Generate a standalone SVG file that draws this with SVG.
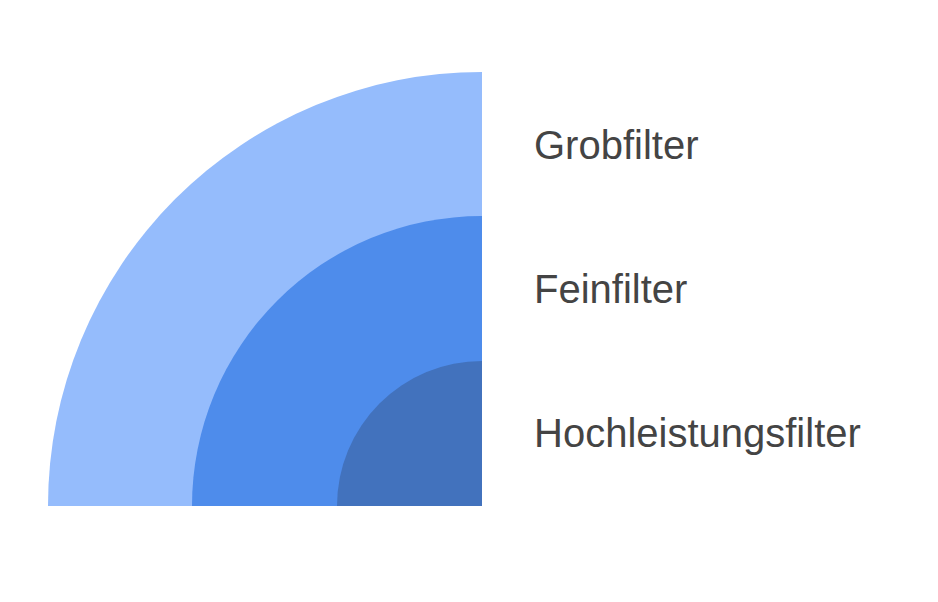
<svg xmlns="http://www.w3.org/2000/svg" width="938" height="602" viewBox="0 0 938 602">
<style>
.lbl{font-family:"Liberation Sans",Arial,sans-serif;font-size:40px;fill:#444444}
</style>
<rect width="938" height="602" fill="#ffffff"/>
<g id="node-grobfilter">
<path d="M482,506 L48,506 A434,434 0 0 1 482,72 Z" fill="#95bcfc"/>
<text class="lbl" x="534" y="159">Grobfilter</text>
</g>
<g id="node-feinfilter">
<path d="M482,506 L192,506 A290,290 0 0 1 482,216 Z" fill="#4e8ceb"/>
<text class="lbl" x="534" y="303">Feinfilter</text>
</g>
<g id="node-hochleistungsfilter">
<path d="M482,506 L337,506 A145,145 0 0 1 482,361 Z" fill="#4272bd"/>
<text class="lbl" x="534" y="447">Hochleistungsfilter</text>
</g>
<g id="connectors"></g>
</svg>
